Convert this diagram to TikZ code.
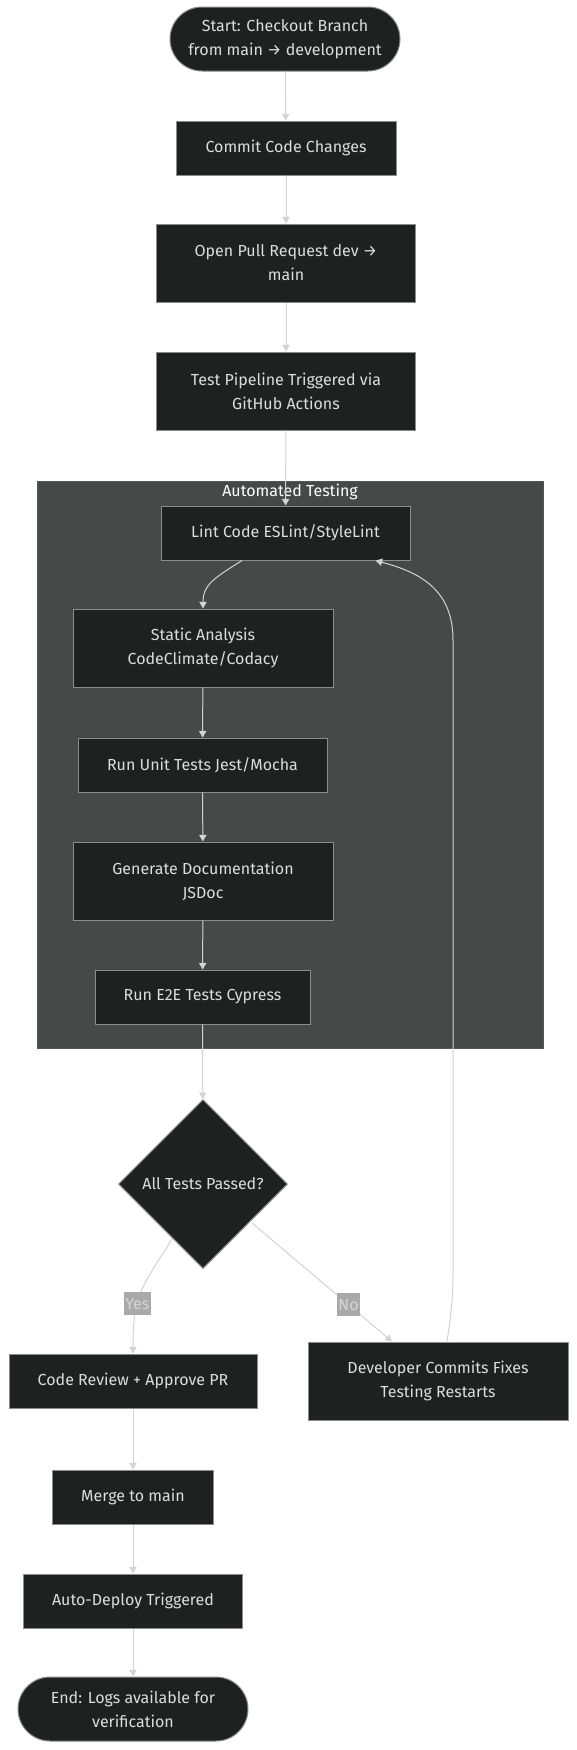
\documentclass[tikz,border=0pt]{standalone}
\usepackage{fontspec}
\setmainfont{Fira Sans}
\usetikzlibrary{shapes.geometric, arrows.meta, positioning, calc}
\definecolor{nodebg}{HTML}{1F2020}
\definecolor{nodeline}{HTML}{8C8C8C}
\definecolor{clusterbg}{HTML}{474949}
\definecolor{clusterline}{HTML}{555757}
\definecolor{edgegray}{HTML}{D3D3D3}
\definecolor{labelbg}{HTML}{A9A9A9}
\definecolor{labeltext}{HTML}{D6D6D6}
\definecolor{textgray}{HTML}{DDDDDD}

\begin{document}
\begin{tikzpicture}[
    x=0.75pt, y=-0.75pt,
    box/.style={rectangle, draw=nodeline, fill=nodebg, line width=0.75pt, text=textgray, align=center, minimum height=40.5pt, inner sep=0pt},
    tallbox/.style={box, minimum height=58.5pt},
    terminal/.style={box, rounded corners=24pt, minimum height=48pt, minimum width=172.5pt},
    decision/.style={diamond, aspect=1, draw=nodeline, fill=nodebg, line width=0.75pt, text=textgray, minimum width=126.75pt, minimum height=126.75pt, inner sep=0pt},
    cluster/.style={rectangle, draw=clusterline, fill=clusterbg, line width=0.75pt, inner sep=0pt},
    arrow/.style={-{Triangle[length=5pt, width=5.5pt]}, draw=edgegray, line width=0.75pt},
    edgelabel/.style={fill=labelbg, text=labeltext, inner sep=1pt, minimum height=17pt},
    every node/.append style={font=\fontsize{12}{18}\selectfont}
]
    \useasboundingbox (0,0) rectangle (576,1750);

    % Pipeline start
    \node[terminal] (start) at (285,39) {Start: Checkout Branch\\from main → development};
    \node[box, minimum width=165pt] (commit) at (286,148) {Commit Code Changes};
    \node[tallbox, minimum width=194.25pt] (openpr) at (286,263) {Open Pull Request dev →\\main};
    \node[tallbox, minimum width=194.25pt] (pipeline) at (286,391) {Test Pipeline Triggered via\\GitHub Actions};

    % Automated Testing
    \node[cluster, minimum width=379.5pt, minimum height=425.25pt] (testing) at (290,764.5) {};
    \node[text=white] (testingtitle) at (290,492) {Automated Testing};
    \node[box, minimum width=186.75pt] (lint) at (285.5,533) {Lint Code ESLint/StyleLint};
    \node[tallbox, minimum width=195pt] (static) at (203,648) {Static Analysis\\CodeClimate/Codacy};
    \node[box, minimum width=186.75pt] (unittest) at (202.5,765) {Run Unit Tests Jest/Mocha};
    \node[tallbox, minimum width=195pt] (gendoc) at (203,881) {Generate Documentation\\JSDoc};
    \node[box, minimum width=161.25pt] (e2e) at (202.5,997) {Run E2E Tests Cypress};

    % Decision
    \node[decision] (check) at (203,1184) {All Tests Passed?};
    \node[box, minimum width=186pt] (review) at (133,1381) {Code Review + Approve PR};
    \node[tallbox, minimum width=195pt] (devfix) at (438,1381) {Developer Commits Fixes\\Testing Restarts};

    % Deployment
    \node[box, minimum width=120.75pt] (merge) at (133,1497) {Merge to main};
    \node[box, minimum width=164.25pt] (deploy) at (133,1601) {Auto-Deploy Triggered};
    \node[terminal] (finish) at (133,1709) {End: Logs available for\\verification};

    \coordinate (loopbase) at (453,1270);
    \coordinate (loopturn) at (453,640);

    % Flow
    \draw[arrow] (start) -- (commit);
    \draw[arrow] (commit) -- (openpr);
    \draw[arrow] (openpr) -- (pipeline);
    \draw[arrow] (pipeline) -- (lint);
    \draw[arrow] ($(lint.south)+(-43.5,0)$) .. controls ($(lint.south)+(-70.5,17)$) and ($(static.north)+(0,-24)$) .. (static.north);
    \draw[arrow] (static) -- (unittest);
    \draw[arrow] (unittest) -- (gendoc);
    \draw[arrow] (gendoc) -- (e2e);
    \draw[arrow] (e2e) -- (check);

    % Branches
    \draw[arrow] ($(check)+(-31,55)$) .. controls ($(check)+(-62,105)$) and ($(review.north)+(0,-60)$) .. node[edgelabel, pos=0.62] {Yes} (review.north);
    \draw[arrow] ($(check)+(49,39)$) -- node[edgelabel, pos=0.69] {No} ($(devfix.north)+(-46,0)$);
    \draw[arrow] ($(devfix.north)+(9,0)$) .. controls ($(devfix.north)+(15,-40)$) and ($(loopbase)+(0,20)$) .. (loopbase) -- (loopturn) .. controls ($(loopturn)+(0,-50)$) and ($(lint.south east)+(10,12)$) .. ($(lint.south east)+(-35,0)$);

    % Release
    \draw[arrow] (review) -- (merge);
    \draw[arrow] (merge) -- (deploy);
    \draw[arrow] (deploy) -- (finish);
\end{tikzpicture}
\end{document}
